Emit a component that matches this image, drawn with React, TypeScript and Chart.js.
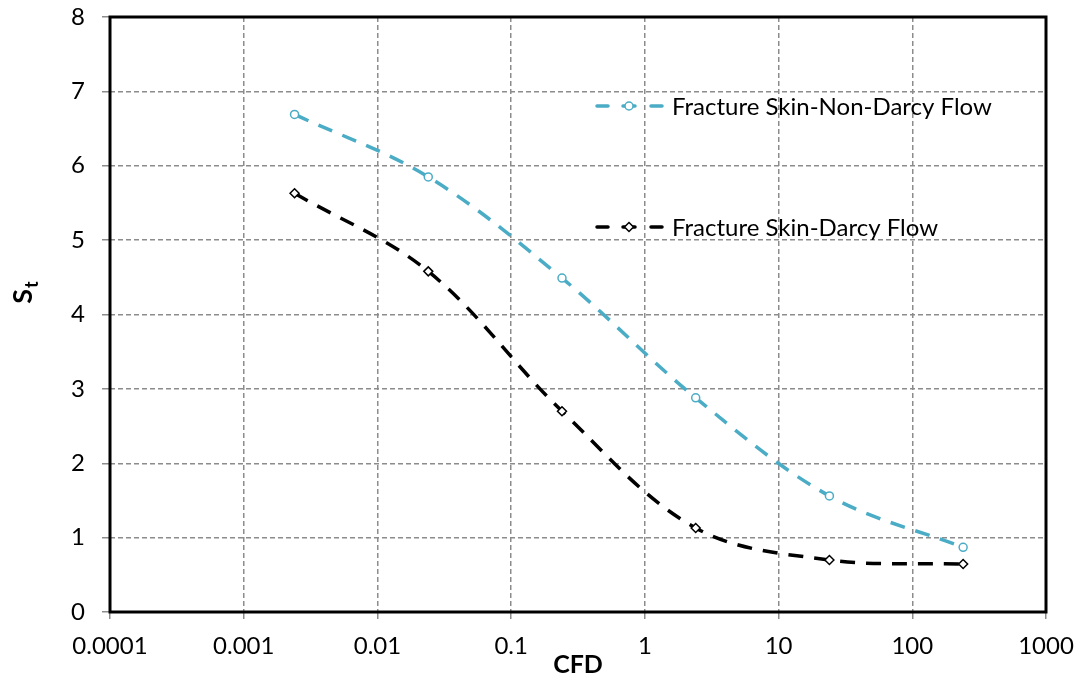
import React, { useEffect, useRef } from "react";
import { Chart, registerables } from "chart.js";

Chart.register(...registerables);

// CFD values (dimensionless fracture conductivity) and total skin
const cfdValues = [0.0024, 0.024, 0.24, 2.4, 24, 240];
const skinNonDarcy = [6.69, 5.85, 4.49, 2.88, 1.56, 0.87];
const skinDarcy = [5.63, 4.58, 2.7, 1.13, 0.7, 0.645];
const xTickValues = [0.0001, 0.001, 0.01, 0.1, 1, 10, 100, 1000];
const seriesNames = ["Fracture Skin-Non-Darcy Flow", "Fracture Skin-Darcy Flow"];

const FONT = "Lato, 'Open Sans', sans-serif";
const CYAN = "#4BACC6";

const plotFrame = {
  id: "plotFrame",
  afterDatasetsDraw(chart: any) {
    const { ctx, chartArea: a } = chart;
    ctx.save();
    ctx.strokeStyle = "#000";
    ctx.lineWidth = 3;
    ctx.strokeRect(a.left, a.top, a.right - a.left, a.bottom - a.top);
    ctx.restore();
  },
  afterDraw(chart: any) {
    const { ctx } = chart;
    ctx.save();
    // y-axis title: S with subscript t
    ctx.translate(32, 293);
    ctx.rotate(-Math.PI / 2);
    ctx.fillStyle = "#000";
    ctx.textBaseline = "alphabetic";
    ctx.textAlign = "left";
    ctx.font = `bold 27px ${FONT}`;
    const sw = ctx.measureText("S").width;
    ctx.font = `bold 18px ${FONT}`;
    const tw = ctx.measureText("t").width;
    const x0 = -(sw + tw) / 2;
    ctx.font = `bold 27px ${FONT}`;
    ctx.fillText("S", x0, 0);
    ctx.font = `bold 18px ${FONT}`;
    ctx.fillText("t", x0 + sw + 1, 6);
    ctx.restore();

    // in-plot legend
    const items = [
      { y: 106, color: CYAN, style: "circle" },
      { y: 227, color: "#000", style: "rectRot" },
    ];
    items.forEach((it, i) => {
      ctx.save();
      ctx.strokeStyle = it.color;
      ctx.lineWidth = 3.5;
      ctx.lineCap = "round";
      ctx.beginPath();
      ctx.moveTo(597, it.y); ctx.lineTo(608, it.y);
      ctx.moveTo(623, it.y); ctx.lineTo(635, it.y);
      ctx.moveTo(651, it.y); ctx.lineTo(662, it.y);
      ctx.stroke();
      ctx.lineWidth = 1.5;
      ctx.fillStyle = "#fff";
      ctx.beginPath();
      if (it.style === "circle") {
        ctx.arc(629, it.y, 4, 0, Math.PI * 2);
      } else {
        ctx.moveTo(629, it.y - 4.5);
        ctx.lineTo(633.5, it.y);
        ctx.lineTo(629, it.y + 4.5);
        ctx.lineTo(624.5, it.y);
        ctx.closePath();
      }
      ctx.fill();
      ctx.stroke();
      ctx.fillStyle = "#000";
      ctx.font = `24px ${FONT}`;
      ctx.textBaseline = "middle";
      ctx.textAlign = "left";
      ctx.fillText(seriesNames[i], 672, it.y + 1);
      ctx.restore();
    });
  },
};

export default function App() {
  const ref = useRef<HTMLCanvasElement>(null);
  useEffect(() => {
    const chart = new Chart(ref.current!, {
      type: "line",
      data: {
        datasets: [
          {
            label: seriesNames[0],
            data: cfdValues.map((x, i) => ({ x, y: skinNonDarcy[i] })),
            borderColor: CYAN,
            borderWidth: 3.5,
            borderDash: [15, 11],
            pointStyle: "circle",
            pointRadius: 4,
            pointBorderWidth: 1.5,
            pointBackgroundColor: "#fff",
            pointBorderColor: CYAN,
            tension: 0.35,
          },
          {
            label: seriesNames[1],
            data: cfdValues.map((x, i) => ({ x, y: skinDarcy[i] })),
            borderColor: "#000",
            borderWidth: 3.5,
            borderDash: [15, 11],
            pointStyle: "rectRot",
            pointRadius: 4.5,
            pointBorderWidth: 1.5,
            pointBackgroundColor: "#fff",
            pointBorderColor: "#000",
            tension: 0.35,
          },
        ],
      },
      options: {
        animation: false,
        responsive: false,
        layout: { padding: { top: 17, right: 37, left: 0, bottom: 0 } },
        plugins: { legend: { display: false }, tooltip: { enabled: false } },
        scales: {
          x: {
            type: "logarithmic",
            min: 0.0001,
            max: 1000,
            afterBuildTicks(scale: any) {
              scale.ticks = xTickValues.map((v) => ({ value: v, major: true }));
            },
            afterFit(scale: any) {
              scale.height = 68;
              scale.paddingLeft = 0;
              scale.paddingRight = 0;
            },
            ticks: {
              autoSkip: false,
              maxRotation: 0,
              color: "#000",
              font: { family: FONT, size: 24 },
              padding: 13,
              callback: (v: any) => String(v),
            },
            grid: {
              color: "#8c8c8c",
              lineWidth: 1.5,
              tickLength: 7,
              tickColor: "#8c8c8c",
            },
            border: { display: false, dash: [5, 3] },
            title: {
              display: true,
              text: "CFD",
              color: "#000",
              font: { family: FONT, size: 25, weight: "bold" },
              padding: { top: -12, bottom: 0 },
            },
          },
          y: {
            min: 0,
            max: 8,
            afterFit(scale: any) {
              scale.width = 110;
              scale.paddingTop = 0;
              scale.paddingBottom = 0;
            },
            ticks: {
              stepSize: 1,
              color: "#000",
              font: { family: FONT, size: 24 },
              padding: 17,
            },
            grid: {
              color: "#8c8c8c",
              lineWidth: 1.5,
              tickLength: 8,
              tickColor: "#8c8c8c",
            },
            border: { display: false, dash: [5, 3] },
          },
        },
      },
      plugins: [plotFrame],
    } as any);
    return () => chart.destroy();
  }, []);
  return (
    <div style={{ position: "fixed", left: 0, top: 0, width: 1083, height: 680, background: "#fff" }}>
      <canvas ref={ref} width={1083} height={680} />
    </div>
  );
}
